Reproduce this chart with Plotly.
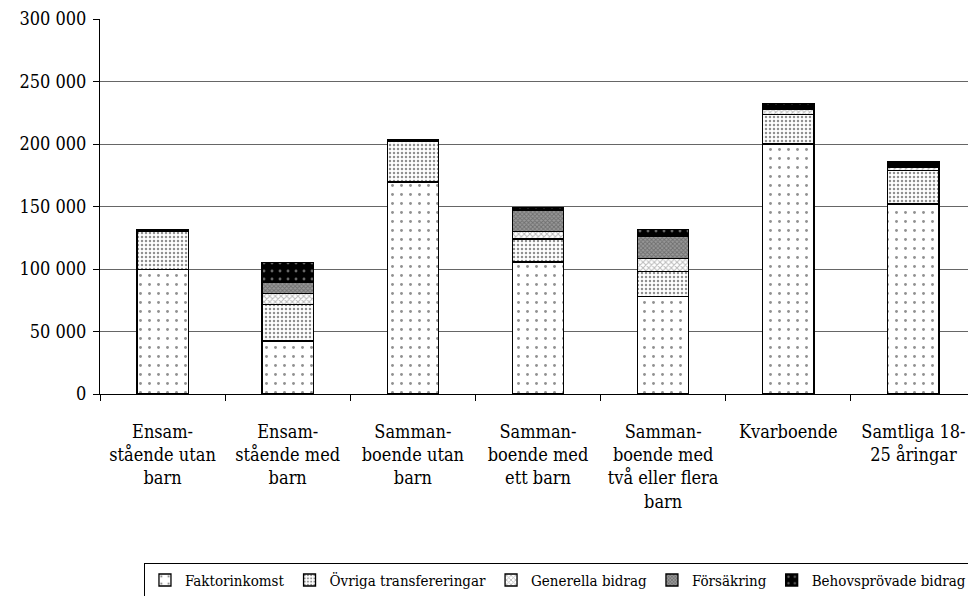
import plotly.graph_objects as go

categories = [
    "Ensam-<br>stående utan<br>barn",
    "Ensam-<br>stående med<br>barn",
    "Samman-<br>boende utan<br>barn",
    "Samman-<br>boende med<br>ett barn",
    "Samman-<br>boende med<br>två eller flera<br>barn",
    "Kvarboende",
    "Samtliga 18-<br>25 åringar",
]

faktorinkomst = [99500, 42500, 169500, 105500, 78000, 200000, 152000]
ovriga_transfereringar = [30500, 29000, 33000, 18500, 20000, 23500, 27000]
generella_bidrag = [300, 9000, 300, 6000, 10500, 4500, 2300]
forsakring = [300, 9000, 300, 17000, 17500, 500, 1000]
behovsprovade_bidrag = [1000, 15500, 500, 2000, 5800, 4000, 3500]

series_names = ["Faktorinkomst", "Övriga transfereringar", "Generella bidrag",
                "Försäkring", "Behovsprövade bidrag"]
series_values = [faktorinkomst, ovriga_transfereringar, generella_bidrag,
                 forsakring, behovsprovade_bidrag]

patterns = [
    dict(shape=".", bgcolor="white", fgcolor="#222", size=9, solidity=0.08),
    dict(shape=".", bgcolor="white", fgcolor="#222", size=4, solidity=0.3),
    dict(shape="x", bgcolor="white", fgcolor="#777", size=4, solidity=0.45),
    dict(shape="x", bgcolor="#999", fgcolor="#444", size=3, solidity=0.5),
    dict(shape=".", bgcolor="black", fgcolor="#ccc", size=8, solidity=0.1),
]

fig = go.Figure()
for name, vals, pat in zip(series_names, series_values, patterns):
    fig.add_trace(go.Bar(
        x=categories, y=vals, name=name,
        marker=dict(color=pat["bgcolor"], pattern=pat,
                    line=dict(color="black", width=1.3)),
    ))

font_family = "DejaVu Serif Condensed, DejaVu Serif, serif"
fig.update_layout(
    barmode="stack",
    bargap=0.59,
    width=968, height=588,
    margin=dict(l=92, r=0, t=11, b=202, autoexpand=False),
    paper_bgcolor="white", plot_bgcolor="white",
    font=dict(family=font_family, size=18, color="black"),
    showlegend=True,
    legend=dict(
        orientation="h",
        x=0.9954, xanchor="right",
        y=-0.45, yanchor="top",
        bordercolor="black", borderwidth=1,
        font=dict(family=font_family, size=15),
        itemwidth=30,
        traceorder="normal",
        tracegroupgap=0,
    ),
    xaxis=dict(
        showline=True, linecolor="black", linewidth=1,
        ticks="outside", ticklen=6, tickcolor="black",
        tickson="boundaries", automargin=False, tickangle=0,
        ticklabelstandoff=21,
        tickfont=dict(family=font_family, size=18),
    ),
    yaxis=dict(
        range=[0, 300000], dtick=50000,
        showline=True, linecolor="black", linewidth=1,
        ticks="outside", ticklen=6, tickcolor="black",
        showgrid=True, gridcolor="#666", gridwidth=1,
        tickformat=",d", automargin=False,
        ticklabeloverflow="allow", ticklabelstandoff=3,
        tickfont=dict(family=font_family, size=18),
        zeroline=False,
    ),
    separators=", ",
)

fig.write_html("out.html")
